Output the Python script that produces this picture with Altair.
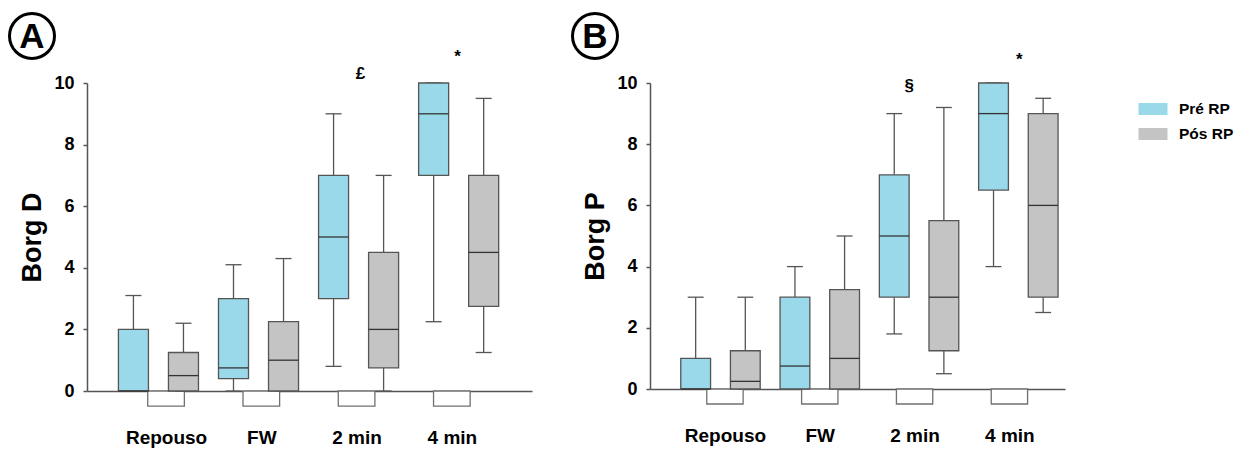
import altair as alt
import pandas as pd

categories = ["Repouso", "FW", "2 min", "4 min"]
groups = ["Pré RP", "Pós RP"]
colors = ["#9ad9ea", "#c4c4c4"]

# Panel A (Borg D): whisker low, q1, median, q3, whisker high
a_pre_low = [0, 0, 0.8, 2.25]
a_pre_q1 = [0, 0.4, 3, 7]
a_pre_med = [0, 0.75, 5, 9]
a_pre_q3 = [2, 3, 7, 10]
a_pre_high = [3.1, 4.1, 9, 10]
a_pos_low = [0, 0, 0, 1.25]
a_pos_q1 = [0, 0, 0.75, 2.75]
a_pos_med = [0.5, 1, 2, 4.5]
a_pos_q3 = [1.25, 2.25, 4.5, 7]
a_pos_high = [2.2, 4.3, 7, 9.5]

# Panel B (Borg P)
b_pre_low = [0, 0, 1.8, 4]
b_pre_q1 = [0, 0, 3, 6.5]
b_pre_med = [0, 0.75, 5, 9]
b_pre_q3 = [1, 3, 7, 10]
b_pre_high = [3, 4, 9, 10]
b_pos_low = [0, 0, 0.5, 2.5]
b_pos_q1 = [0, 0, 1.25, 3]
b_pos_med = [0.25, 1, 3, 6]
b_pos_q3 = [1.25, 3.25, 5.5, 9]
b_pos_high = [3, 5, 9.2, 9.5]

# significance annotations (category position, symbol, height)
a_sig_x = [2.02, 2.99]
a_sig_text = ["£", "*"]
a_sig_y = [10.3, 10.85]
b_sig_x = [1.90, 3.01]
b_sig_text = ["§", "*"]
b_sig_y = [9.9, 10.75]

FONT = "Liberation Sans"
LINE = "#555555"
GROUP_OFF = {"Pré RP": -0.25, "Pós RP": 0.25}
BOX_HALF = 0.15
CAP_HALF = 0.08


def stats_df(pre, pos):
    rows = []
    for g, st in zip(groups, [pre, pos]):
        low, q1, med, q3, high = st
        for i, c in enumerate(categories):
            p = i + GROUP_OFF[g]
            rows.append(dict(cat=c, group=g, pos=p, x1=p - BOX_HALF, x2=p + BOX_HALF,
                             c1=p - CAP_HALF, c2=p + CAP_HALF,
                             low=low[i], q1=q1[i], med=med[i], q3=q3[i], high=high[i]))
    return pd.DataFrame(rows)


legend = alt.Legend(title=None, orient="none", legendX=1056, legendY=16,
                    symbolType="M-1.45,-0.6H1.45V0.6H-1.45Z", symbolSize=400,
                    symbolStrokeWidth=0, symbolOpacity=1,
                    labelFont=FONT, labelFontSize=15.5, labelFontWeight="bold",
                    labelColor="black", labelOffset=16, rowPadding=6)


def panel(df, sig_x, sig_text, sig_y, ytitle, letter, xdom, width, height, blank0, blankstep):
    xs = alt.Scale(domain=xdom, nice=False, zero=False)
    ys = alt.Scale(domain=[0, 10], nice=False)
    label_vals = [blank0 + blankstep * i for i in range(len(categories))]
    cat_js = "[" + ",".join("'" + c + "'" for c in categories) + "]"
    xaxis = alt.Axis(values=label_vals, title=None, ticks=False, grid=False,
                     labelExpr=f"{cat_js}[round((datum.value - {blank0})/{blankstep})]",
                     labelFont=FONT, labelFontSize=19, labelFontWeight="bold", labelColor="black",
                     labelPadding=37, domainColor=LINE, domainWidth=1.5, labelFlush=False)
    yaxis = alt.Axis(values=[0, 2, 4, 6, 8, 10], grid=False, title=ytitle,
                     labelFont=FONT, labelFontSize=18, labelFontWeight="bold", labelColor="black",
                     labelPadding=9, tickSize=4, tickColor=LINE, tickWidth=1.5,
                     domainColor=LINE, domainWidth=1.5,
                     titleFont=FONT, titleFontSize=27, titleFontWeight="bold", titleColor="black",
                     titlePadding=7)
    base = alt.Chart(df)
    wl = base.mark_rule(color=LINE, strokeWidth=1.3).encode(
        x=alt.X("pos:Q", scale=xs, axis=xaxis), y=alt.Y("low:Q", scale=ys, axis=yaxis), y2="q1:Q")
    wh = base.mark_rule(color=LINE, strokeWidth=1.3).encode(x="pos:Q", y="q3:Q", y2="high:Q")
    cl = base.mark_rule(color=LINE, strokeWidth=1.3).encode(x="c1:Q", x2="c2:Q", y="low:Q")
    ch = base.mark_rule(color=LINE, strokeWidth=1.3).encode(x="c1:Q", x2="c2:Q", y="high:Q")
    box = base.mark_rect(stroke=LINE, strokeWidth=1.3).encode(
        x="x1:Q", x2="x2:Q", y="q1:Q", y2="q3:Q",
        fill=alt.Fill("group:N", scale=alt.Scale(domain=groups, range=colors), legend=legend))
    med = base.mark_rule(color="#333333", strokeWidth=1.3).encode(x="x1:Q", x2="x2:Q", y="med:Q")

    bdf = pd.DataFrame({"cat": categories})
    bdf["c"] = [blank0 + blankstep * i for i in range(len(categories))]
    bdf["b1"] = bdf["c"] - 0.183
    bdf["b2"] = bdf["c"] + 0.183
    bdf["top"] = 0.0
    bdf["bot"] = -0.49
    blank = alt.Chart(bdf).mark_rect(fill="white", stroke="#707070", strokeWidth=1.3).encode(
        x="b1:Q", x2="b2:Q", y="top:Q", y2="bot:Q")

    sdf = pd.DataFrame({"x": sig_x, "t": sig_text, "y": sig_y})
    sig = alt.Chart(sdf).mark_text(font=FONT, fontSize=17, fontWeight="bold", color="black").encode(
        x="x:Q", y="y:Q", text="t:N")

    one = pd.DataFrame({"t": [letter]})
    circ = alt.Chart(one).mark_point(shape="circle", filled=False, size=2025, strokeWidth=3,
                                     color="black", opacity=1).encode(
        x=alt.value(-55), y=alt.value(-47))
    let = alt.Chart(one).mark_text(font=FONT, fontSize=35, fontWeight="bold", color="black",
                                   baseline="middle", align="center", dy=1).encode(
        x=alt.value(-55), y=alt.value(-47), text="t:N")

    return alt.layer(blank, wl, wh, cl, ch, box, med, sig, circ, let).properties(
        width=width, height=height)


dfA = stats_df([a_pre_low, a_pre_q1, a_pre_med, a_pre_q3, a_pre_high],
               [a_pos_low, a_pos_q1, a_pos_med, a_pos_q3, a_pos_high])
dfB = stats_df([b_pre_low, b_pre_q1, b_pre_med, b_pre_q3, b_pre_high],
               [b_pos_low, b_pos_q1, b_pos_med, b_pos_q3, b_pos_high])

pA = panel(dfA, a_sig_x, a_sig_text, a_sig_y, "Borg D", "A", [-0.714, 3.733], 445, 308, 0.076, 0.952)
pB = panel(dfB, b_sig_x, b_sig_text, b_sig_y, "Borg P", "B", [-0.71, 3.47], 415, 306, 0.045, 0.955)

chart = alt.hconcat(pA, pB, spacing=34).resolve_scale(fill="shared").resolve_legend(fill="shared").properties(
    padding={"left": -5, "top": -1, "right": 5, "bottom": 5}, background="white"
).configure_view(strokeWidth=0, stroke="transparent")

chart.save("out.html", embed_options={"renderer": "svg", "actions": False})
